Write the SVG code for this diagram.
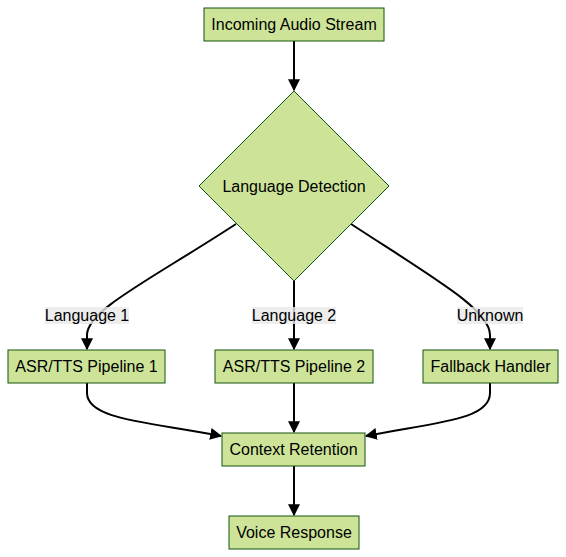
<svg xmlns="http://www.w3.org/2000/svg" width="566" height="557" viewBox="0 0 566 557">
<defs>
<style>
.node{fill:#cde498;stroke:#13540c;stroke-width:1}
.t{font-family:"Liberation Sans",Arial,sans-serif;font-size:16px;fill:#000;text-anchor:middle;dominant-baseline:central}
.e{fill:none;stroke:#000;stroke-width:2}
.lb{fill:#e8e8e8;opacity:0.8}
</style>
<marker id="arr" viewBox="0 0 10 10" refX="9" refY="5" markerWidth="6" markerHeight="6" markerUnits="strokeWidth" orient="auto">
<path d="M0,0 L10,5 L0,10 z" fill="#000"/>
</marker>
</defs>
<rect width="566" height="557" fill="#fff"/>
<g id="edges">
<path class="e" d="M294,41 L294,90" marker-end="url(#arr)"/>
<path class="e" d="M236,224 C150,280 87,310 87,335 L87,349" marker-end="url(#arr)"/>
<path class="e" d="M294,281 L294,349" marker-end="url(#arr)"/>
<path class="e" d="M351,224 C437,280 490,310 490,335 L490,349" marker-end="url(#arr)"/>
<path class="e" d="M87,383 L87,393 C87,420 150,422 221,436" marker-end="url(#arr)"/>
<path class="e" d="M294,383 L294,432" marker-end="url(#arr)"/>
<path class="e" d="M490,383 L490,393 C490,420 437,422 366,436" marker-end="url(#arr)"/>
<path class="e" d="M294,466 L294,515" marker-end="url(#arr)"/>
<rect class="lb" x="45" y="307" width="84" height="17"/>
<text class="t" x="87" y="315.5">Language 1</text>
<rect class="lb" x="252" y="307" width="84" height="17"/>
<text class="t" x="294" y="315.5">Language 2</text>
<rect class="lb" x="457" y="307" width="66" height="17"/>
<text class="t" x="490" y="315.5">Unknown</text>
</g>
<g id="n1"><rect class="node" x="204" y="8" width="180" height="33"/><text class="t" x="294" y="24.5">Incoming Audio Stream</text></g>
<g id="n2"><polygon class="node" points="294,91 389,186 294,281 199,186"/><text class="t" x="294" y="186">Language Detection</text></g>
<g id="n3"><rect class="node" x="8" y="350" width="157" height="33"/><text class="t" x="86.5" y="366.5">ASR/TTS Pipeline 1</text></g>
<g id="n4"><rect class="node" x="215" y="350" width="158" height="33"/><text class="t" x="294" y="366.5">ASR/TTS Pipeline 2</text></g>
<g id="n5"><rect class="node" x="423" y="350" width="135" height="33"/><text class="t" x="490.5" y="366.5">Fallback Handler</text></g>
<g id="n6"><rect class="node" x="222" y="433" width="143" height="33"/><text class="t" x="293.5" y="449.5">Context Retention</text></g>
<g id="n7"><rect class="node" x="229" y="516" width="130" height="33"/><text class="t" x="294" y="532.5">Voice Response</text></g>
</svg>
